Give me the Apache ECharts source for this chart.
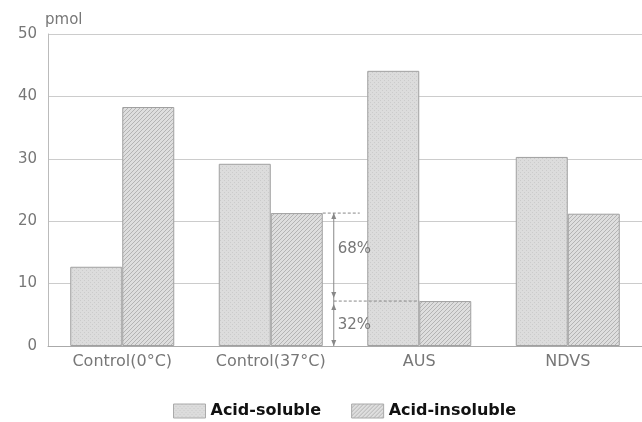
<!DOCTYPE html>
<html><head><meta charset="utf-8">
<script src="https://cdn.jsdelivr.net/npm/echarts@6/dist/echarts.min.js"></script>
<style>html,body{margin:0;padding:0;background:#fff}#c{width:642px;height:422px}</style>
</head><body><div id="c"></div>
<script>
const categories = ['Control(0°C)', 'Control(37°C)', 'AUS', 'NDVS'];
const acidSoluble = [12.7, 29.2, 44.1, 30.3];
const acidInsoluble = [38.3, 21.3, 7.2, 21.2];
const seriesNames = ['Acid-soluble', 'Acid-insoluble'];
const pctLabels = ['68%', '32%'];
const yUnit = 'pmol';

function makePattern(kind) {
  const c = document.createElement('canvas');
  const g = c.getContext('2d');
  c.width = 4; c.height = 4;
  if (kind === 0) {
    g.fillStyle = '#dcdcdc'; g.fillRect(0, 0, 4, 4);
    g.fillStyle = '#cbcbcb';
    g.fillRect(0, 0, 1, 1); g.fillRect(2, 2, 1, 1);
  } else {
    g.fillStyle = '#dedede'; g.fillRect(0, 0, 4, 4);
    g.fillStyle = '#b4b4b4';
    for (let i = 0; i < 4; i++) g.fillRect(i, 3 - i, 1, 1);
  }
  return c;
}
const pat0 = { image: makePattern(0), repeat: 'repeat' };
const pat1 = { image: makePattern(1), repeat: 'repeat' };

const chart = echarts.init(document.getElementById('c'));
const font = 'DejaVu Sans';
chart.setOption({
  animation: false,
  grid: { left: 48, top: 34, width: 604, height: 312, containLabel: false },
  legend: {
    top: 398, left: 168, itemWidth: 32, itemHeight: 14, itemGap: 30,
    textStyle: { fontFamily: font, fontWeight: 'bold', fontSize: 16, color: '#111' },
    data: seriesNames.map((n, i) => ({ name: n, icon: 'rect', itemStyle: { color: i ? pat1 : pat0, borderColor: '#aaa', borderWidth: 1 } }))
  },
  xAxis: {
    type: 'category', data: categories,
    axisLine: { lineStyle: { color: '#aaa' } },
    axisTick: { show: false },
    axisLabel: { color: '#777', fontFamily: font, fontSize: 16, margin: 8 }
  },
  yAxis: {
    type: 'value', min: 0, max: 50, interval: 10, name: yUnit,
    nameGap: 6, nameTextStyle: { color: '#777', fontFamily: font, fontSize: 15, align: 'left', padding: [0, 0, 0, -3] },
    axisLine: { show: true, lineStyle: { color: '#bbb' } },
    axisTick: { show: false },
    axisLabel: { color: '#777', fontFamily: font, fontSize: 15, margin: 11 },
    splitLine: { lineStyle: { color: '#ccc' } }
  },
  series: [
    { name: seriesNames[0], type: 'bar', data: acidSoluble, barWidth: 52, barGap: '0%',
      itemStyle: { color: pat0, borderColor: '#a0a0a0', borderWidth: 1 } },
    { name: seriesNames[1], type: 'bar', data: acidInsoluble, barWidth: 52, barGap: '0%',
      itemStyle: { color: pat1, borderColor: '#a0a0a0', borderWidth: 1 } }
  ]
});

// annotation bracket between Control(37°C) and AUS
const c1 = chart.convertToPixel({ gridIndex: 0 }, [1, acidInsoluble[1]]);
const c2 = chart.convertToPixel({ gridIndex: 0 }, [2, acidInsoluble[2]]);
const c0 = chart.convertToPixel({ gridIndex: 0 }, [1, 0]);
const bx = c1[0] + 52 + 11;
const yTop = c1[1], yMid = c2[1], yBot = c0[1];
const col = '#888';
function tri(x, y, dir) {
  return { type: 'polygon', z: 100, shape: { points: [[x - 2.5, y - dir * 6], [x + 2.5, y - dir * 6], [x, y]] }, style: { fill: col } };
}
chart.setOption({
  graphic: [
    { type: 'line', z: 100, shape: { x1: c1[0] + 52, y1: yTop, x2: bx + 26, y2: yTop }, style: { stroke: col, lineWidth: 1, lineDash: [3, 2] } },
    { type: 'line', z: 100, shape: { x1: bx, y1: yMid, x2: c2[0], y2: yMid }, style: { stroke: col, lineWidth: 1, lineDash: [3, 2] } },
    { type: 'line', z: 100, shape: { x1: bx, y1: yTop, x2: bx, y2: yBot }, style: { stroke: col, lineWidth: 1 } },
    tri(bx, yTop, -1), tri(bx, yMid - 3, 1), tri(bx, yMid + 3, -1), tri(bx, yBot, 1),
    { type: 'text', z: 100, x: bx + 4, y: (yTop + yMid) / 2 - 8, style: { text: pctLabels[0], fill: '#777', font: '15px DejaVu Sans', verticalAlign: 'middle' } },
    { type: 'text', z: 100, x: bx + 4, y: (yMid + yBot) / 2 + 2, style: { text: pctLabels[1], fill: '#777', font: '15px DejaVu Sans', verticalAlign: 'middle' } }
  ]
});
</script></body></html>
